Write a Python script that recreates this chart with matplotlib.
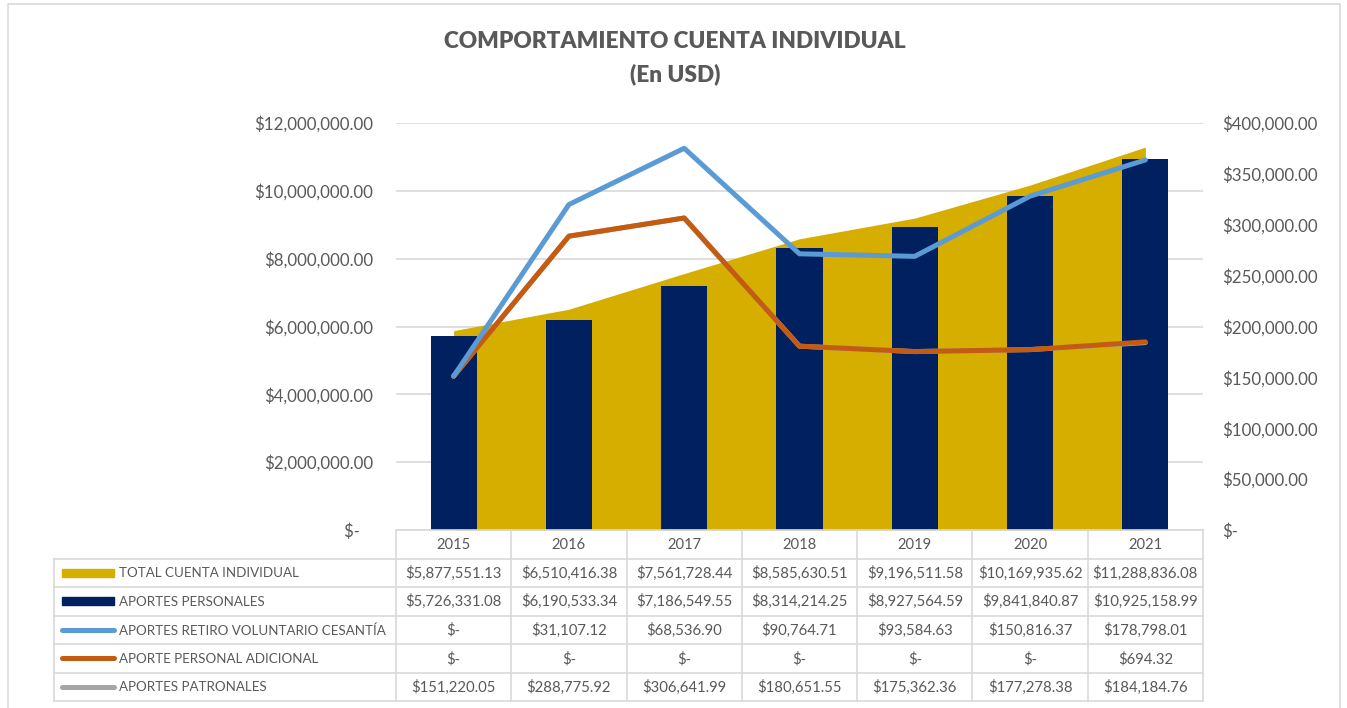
import matplotlib
matplotlib.use("Agg")
import matplotlib.pyplot as plt
from matplotlib.patches import Rectangle
from matplotlib.lines import Line2D
import numpy as np

plt.rcParams['font.family'] = ['Lato', 'DejaVu Sans']

# datos
anios = ['2015', '2016', '2017', '2018', '2019', '2020', '2021']
total_cuenta = [5877551.13, 6510416.38, 7561728.44, 8585630.51, 9196511.58, 10169935.62, 11288836.08]
aportes_personales = [5726331.08, 6190533.34, 7186549.55, 8314214.25, 8927564.59, 9841840.87, 10925158.99]
retiro_cesantia = [0, 31107.12, 68536.90, 90764.71, 93584.63, 150816.37, 178798.01]
personal_adicional = [0, 0, 0, 0, 0, 0, 694.32]
aportes_patronales = [151220.05, 288775.92, 306641.99, 180651.55, 175362.36, 177278.38, 184184.76]

series_nombres = ['TOTAL CUENTA INDIVIDUAL', 'APORTES PERSONALES',
                  'APORTES RETIRO VOLUNTARIO CESANTÍA', 'APORTE PERSONAL ADICIONAL',
                  'APORTES PATRONALES']

c_oro = '#D6AE00'
c_azul = '#002060'
c_celeste = '#5B9BD5'
c_naranja = '#C55A11'
c_gris = '#A5A5A5'
c_texto = '#595959'
c_linea = '#D9D9D9'

W, H = 1347, 708
fig = plt.figure(figsize=(W / 100, H / 100), dpi=100)

def fx(px):
    return px / W

def fy(py):
    return 1 - py / H

# borde del grafico
fig.add_artist(Line2D([fx(8), fx(8), fx(1340), fx(1340)], [fy(720), fy(4), fy(4), fy(720)],
                      color=c_linea, lw=1.2))

fig.text(fx(675), fy(42), 'COMPORTAMIENTO CUENTA INDIVIDUAL', ha='center', va='center',
         fontsize=16.3, fontweight='heavy', color=c_texto)
fig.text(fx(675), fy(74), '(En USD)', ha='center', va='center',
         fontsize=16.3, fontweight='heavy', color=c_texto)

x = np.arange(len(anios))
ax = fig.add_axes([fx(396), fy(530), fx(1203) - fx(396), fy(123) - fy(530)])
ax.set_xlim(-0.5, len(anios) - 0.5)
ax.set_ylim(0, 12000000)
ax.fill_between(x, 0, total_cuenta, color=c_oro, lw=0, zorder=1)
ax.bar(x, aportes_personales, width=0.4, color=c_azul, zorder=2)
ax.set_yticks(np.arange(0, 12000001, 2000000))
ax.set_yticklabels(['$-   '] + ['${:,.2f}'.format(v) for v in np.arange(2000000, 12000001, 2000000)])
ax.grid(axis='y', color=c_linea, lw=1.2, zorder=0)
ax.set_axisbelow(True)
ax.set_xticks([])
for s in ax.spines.values():
    s.set_visible(False)
ax.tick_params(axis='y', length=0, pad=16.5, labelsize=12.2, labelcolor=c_texto)

# lineas apiladas en eje secundario
ax2 = ax.twinx()
ax2.set_ylim(0, 400000)
nivel1 = np.array(aportes_patronales)
nivel2 = nivel1 + np.array(personal_adicional)
nivel3 = nivel2 + np.array(retiro_cesantia)
ax2.plot(x, nivel1, color=c_gris, lw=3.6, solid_capstyle='round', solid_joinstyle='round')
ax2.plot(x, nivel2, color=c_naranja, lw=3.6, solid_capstyle='round', solid_joinstyle='round')
ax2.plot(x, nivel3, color=c_celeste, lw=3.6, solid_capstyle='round', solid_joinstyle='round')
ax2.set_yticks(np.arange(0, 400001, 50000))
ax2.set_yticklabels(['$-'] + ['${:,.2f}'.format(v) for v in np.arange(50000, 400001, 50000)])
for s in ax2.spines.values():
    s.set_visible(False)
ax2.tick_params(axis='y', length=0, pad=13.7, labelsize=12.2, labelcolor=c_texto)

# tabla de datos
tab = fig.add_axes([fx(396), fy(701), fx(1203) - fx(396), fy(530) - fy(701)])
tab.set_xlim(-0.5, len(anios) - 0.5)
tab.set_ylim(6, 0)
tab.axis('off')
ancho_cat = (1203 - 396) / len(anios)
x_izq = -0.5 - (396 - 54) / ancho_cat

lk = dict(color=c_linea, lw=1.2, clip_on=False)
tab.plot([-0.5, len(anios) - 0.5], [0, 0], **lk)
for r in range(1, 7):
    tab.plot([x_izq, len(anios) - 0.5], [r, r], **lk)
for k in range(len(anios) + 1):
    tab.plot([k - 0.5, k - 0.5], [0, 6], **lk)
tab.plot([x_izq, x_izq], [1, 6], **lk)

for i, a in enumerate(anios):
    tab.text(i, 0.52, a, ha='center', va='center', fontsize=10.6, color=c_texto)

valores = [total_cuenta, aportes_personales, retiro_cesantia, personal_adicional, aportes_patronales]
for r, (nombre, serie) in enumerate(zip(series_nombres, valores), start=1):
    for i, v in enumerate(serie):
        txt = '$-' if v == 0 else '${:,.2f}'.format(v)
        tab.text(i, r + 0.52, txt, ha='center', va='center', fontsize=10.7, color=c_texto)
    tab.text(x_izq + (119 - 54) / ancho_cat, r + 0.52, nombre, ha='left', va='center',
             fontsize=9.6, color=c_texto, clip_on=False)

# claves de leyenda
kx0 = x_izq + (62 - 54) / ancho_cat
kx1 = x_izq + (114 - 54) / ancho_cat
for r, c in zip([1, 2], [c_oro, c_azul]):
    tab.add_patch(Rectangle((kx0, r + 0.36), kx1 - kx0, 0.28, color=c, clip_on=False))
for r, c in zip([3, 4, 5], [c_celeste, c_naranja, c_gris]):
    tab.plot([kx0, kx1], [r + 0.5, r + 0.5], color=c, lw=3.6, solid_capstyle='round', clip_on=False)

fig.savefig('out.png', dpi=100)
